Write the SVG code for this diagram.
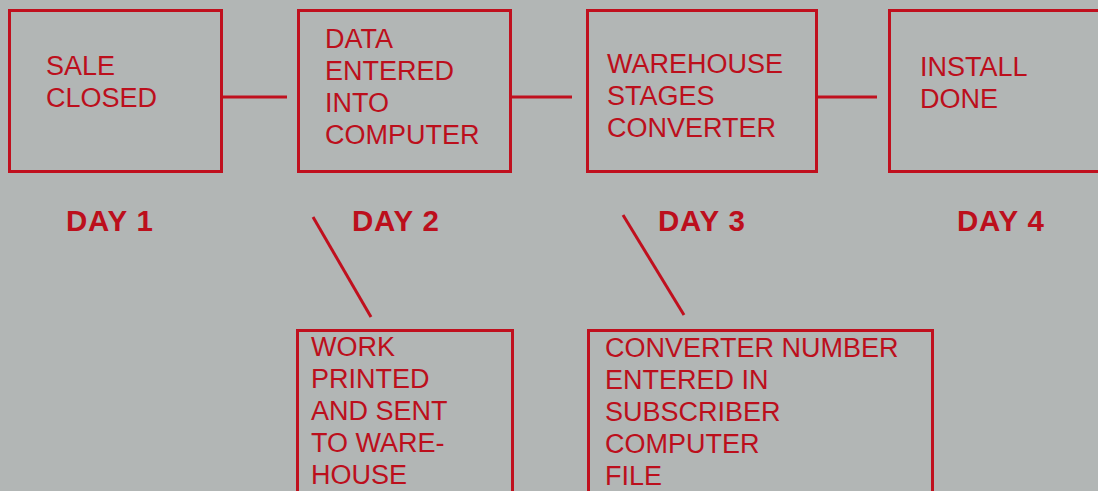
<svg xmlns="http://www.w3.org/2000/svg" width="1098" height="491" viewBox="0 0 1098 491">
  <style>
    .box { fill: none; stroke: #c0101e; stroke-width: 3; }
    .conn { stroke: #c0101e; stroke-width: 3; fill: none; }
    .t { font-family: "Liberation Sans", Arial, sans-serif; font-size: 27px; fill: #bc0f1c; }
    .day { font-family: "Liberation Sans", Arial, sans-serif; font-size: 29.5px; font-weight: bold; fill: #bc0f1c; letter-spacing: 0.8px; }
  </style>
  <rect x="0" y="0" width="1098" height="491" fill="#b2b6b5"/>
  <g id="connectors">
    <line class="conn" x1="222" y1="97" x2="287" y2="97"/>
    <line class="conn" x1="511" y1="97" x2="572" y2="97"/>
    <line class="conn" x1="817" y1="97" x2="877" y2="97"/>
    <line class="conn" x1="313" y1="217" x2="371" y2="317"/>
    <line class="conn" x1="623" y1="215" x2="684" y2="315"/>
  </g>
  <g id="sale-closed">
    <rect class="box" x="9.5" y="10.5" width="212" height="161"/>
    <text class="t" x="46" y="75">SALE</text>
    <text class="t" x="46" y="107">CLOSED</text>
  </g>
  <g id="data-entered">
    <rect class="box" x="298.5" y="10.5" width="212" height="161"/>
    <text class="t" x="325" y="48">DATA</text>
    <text class="t" x="325" y="80">ENTERED</text>
    <text class="t" x="325" y="112">INTO</text>
    <text class="t" x="325" y="144">COMPUTER</text>
  </g>
  <g id="warehouse-stages">
    <rect class="box" x="587.5" y="10.5" width="229" height="161"/>
    <text class="t" x="607" y="73">WAREHOUSE</text>
    <text class="t" x="607" y="105">STAGES</text>
    <text class="t" x="607" y="137">CONVERTER</text>
  </g>
  <g id="install-done">
    <rect class="box" x="889.5" y="10.5" width="230" height="161"/>
    <text class="t" x="920" y="76">INSTALL</text>
    <text class="t" x="920" y="108">DONE</text>
  </g>
  <g id="day-labels">
    <text class="day" x="66" y="231">DAY 1</text>
    <text class="day" x="352" y="231">DAY 2</text>
    <text class="day" x="658" y="231">DAY 3</text>
    <text class="day" x="957" y="231">DAY 4</text>
  </g>
  <g id="work-printed">
    <rect class="box" x="297.5" y="330.5" width="215" height="180"/>
    <text class="t" x="311" y="356">WORK</text>
    <text class="t" x="311" y="388">PRINTED</text>
    <text class="t" x="311" y="420">AND SENT</text>
    <text class="t" x="311" y="452">TO WARE-</text>
    <text class="t" x="311" y="484">HOUSE</text>
  </g>
  <g id="converter-number">
    <rect class="box" x="588.5" y="330.5" width="344" height="180"/>
    <text class="t" x="605" y="357">CONVERTER NUMBER</text>
    <text class="t" x="605" y="389">ENTERED IN</text>
    <text class="t" x="605" y="421">SUBSCRIBER</text>
    <text class="t" x="605" y="453">COMPUTER</text>
    <text class="t" x="605" y="485">FILE</text>
  </g>
</svg>
